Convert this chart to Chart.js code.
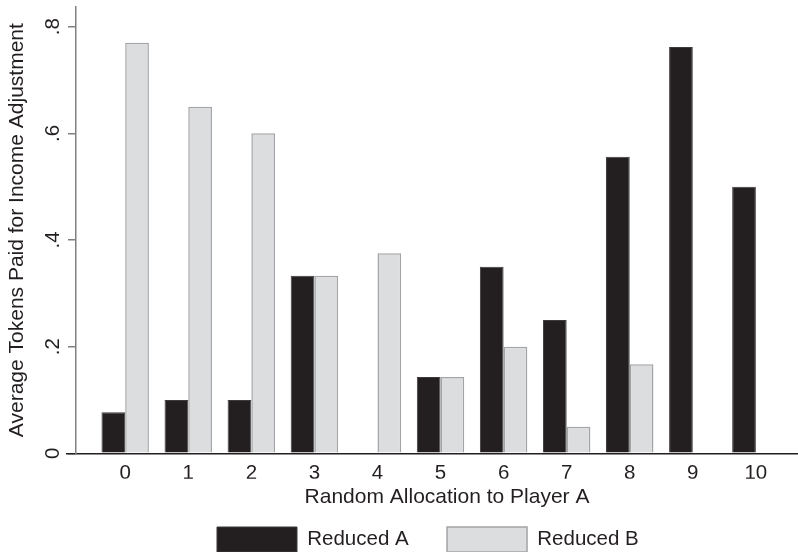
<!DOCTYPE html>
<html>
<head>
<meta charset="utf-8">
<script src="https://cdn.jsdelivr.net/npm/chart.js@4.4.0/dist/chart.umd.min.js"></script>
<style>
  html, body { margin: 0; padding: 0; background: #fff; overflow: hidden; }
  canvas { display: block; }
</style>
</head>
<body>
<canvas id="tokensChart" width="798" height="552"></canvas>
<script>
// values
const allocations = [0, 1, 2, 3, 4, 5, 6, 7, 8, 9, 10];
const reducedA = [0.077, 0.1, 0.1, 0.333, 0, 0.143, 0.35, 0.25, 0.556, 0.762, 0.5];
const reducedB = [0.77, 0.65, 0.6, 0.333, 0.375, 0.143, 0.2, 0.05, 0.167, 0, 0];
const yTickValues = [0, 0.2, 0.4, 0.6, 0.8];
const yTickLabels = ['0', '.2', '.4', '.6', '.8'];

const textColor = '#231f20';
const font = 'Liberation Sans, Arial, Helvetica, sans-serif';

// the original figure is cropped at the right and bottom edges:
// stretch the x axis box (title centre + baseline) and push the legend
// right and down so its boxes get cut like in the source
const cropFix = {
    id: 'cropFix',
    afterLayout(chart) {
        const x = chart.scales.x;
        x.left -= 9;
        x.right += 29;
        const lg = chart.legend;
        lg.left += 28.85;
        lg.right += 28.85;
        lg.top += 10;
        lg.bottom += 10;
    }
};

const ctx = document.getElementById('tokensChart').getContext('2d');

new Chart(ctx, {
    type: 'bar',
    data: {
        datasets: [{
            label: 'Reduced A',
            data: allocations.map((a, i) => ({ x: a, y: reducedA[i] })),
            backgroundColor: '#231f20',
            borderColor: '#3d3a3b',
            borderWidth: 1
        }, {
            label: 'Reduced B',
            data: allocations.map((a, i) => ({ x: a, y: reducedB[i] })),
            backgroundColor: '#dcdddf',
            borderColor: '#a3a4a7',
            borderWidth: 1.5
        }]
    },
    options: {
        responsive: false,
        animation: false,
        inflateAmount: 0,
        categoryPercentage: 0.752,
        barPercentage: 1,
        layout: {
            padding: { top: 7, left: 0, right: 0, bottom: 0 }
        },
        scales: {
            x: {
                type: 'linear',
                offset: false,
                min: -0.78,
                max: 10.668,
                afterBuildTicks: (scale) => {
                    scale.ticks = allocations.map(v => ({ value: v }));
                },
                afterFit: (scale) => { scale.height = 25.35; },
                grid: { drawOnChartArea: false, drawTicks: false },
                border: { color: '#231f20', width: 1.5 },
                ticks: {
                    padding: 8,
                    color: textColor,
                    font: { family: font, size: 20.5 }
                },
                title: {
                    display: true,
                    text: 'Random Allocation to Player A',
                    color: textColor,
                    font: { family: font, size: 21 },
                    padding: { top: 0, bottom: -31.45 }
                }
            },
            y: {
                min: 0,
                max: 0.837,
                afterBuildTicks: (scale) => {
                    scale.ticks = yTickValues.map(v => ({ value: v }));
                },
                afterFit: (scale) => {
                    scale.width = 76;
                    scale.paddingTop = 0;
                    scale.paddingBottom = 0;
                },
                grid: {
                    drawOnChartArea: false,
                    drawTicks: true,
                    tickLength: 8,
                    color: '#808080',
                    lineWidth: 1.5
                },
                border: { color: '#808080', width: 1.5 },
                ticks: {
                    minRotation: 90,
                    maxRotation: 90,
                    crossAlign: 'center',
                    padding: 6,
                    color: textColor,
                    font: { family: font, size: 20.5 },
                    callback: (value, index) => yTickLabels[index]
                },
                title: {
                    display: true,
                    text: 'Average Tokens Paid for Income Adjustment',
                    color: textColor,
                    font: { family: font, size: 21 },
                    padding: { top: 5, bottom: 0 }
                }
            }
        },
        plugins: {
            tooltip: { enabled: false },
            legend: {
                position: 'bottom',
                labels: {
                    boxWidth: 80,
                    boxHeight: 25,
                    padding: 38.35,
                    color: textColor,
                    font: { family: font, size: 20.5 }
                }
            }
        }
    },
    plugins: [cropFix]
});
</script>
</body>
</html>
